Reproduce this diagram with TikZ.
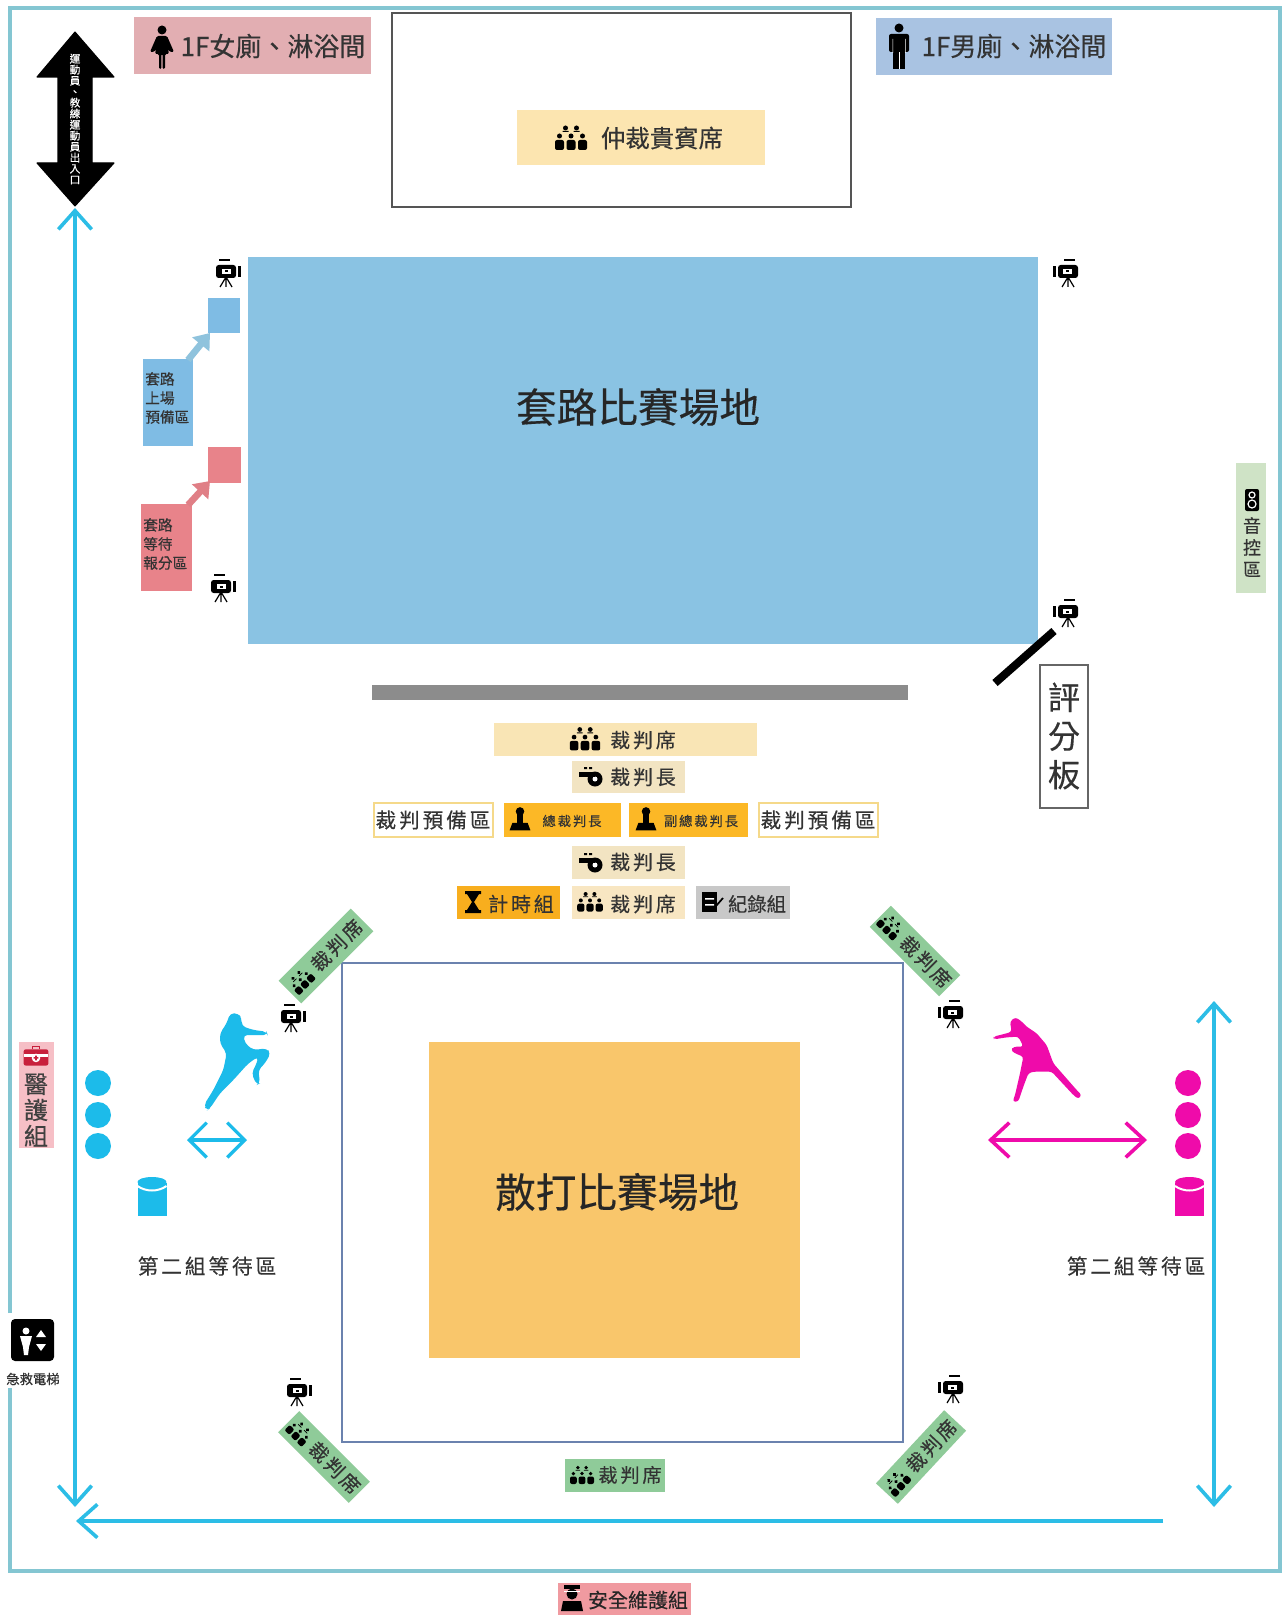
\documentclass[tikz,border=0pt]{standalone}
\usepackage{fontspec}
\setmainfont[FakeBold=0.35]{Noto Sans CJK TC}
\newfontfamily\wide[LetterSpace=14,FakeBold=0.35]{Noto Sans CJK TC}
\usetikzlibrary{arrows.meta}
\definecolor{borderc}{HTML}{84C6D2}
\definecolor{cyanl}{HTML}{2CBDE6}
\definecolor{fieldblue}{HTML}{8AC3E3}
\definecolor{fieldorange}{HTML}{F9C66B}
\definecolor{seatcream}{HTML}{F9E5B5}
\definecolor{chiefcream}{HTML}{F2E4C2}
\definecolor{amberb}{HTML}{FCB826}
\definecolor{greenseat}{HTML}{8FCB99}
\definecolor{mag}{HTML}{EF0BAA}
\definecolor{blueb}{HTML}{1CBBEA}
\definecolor{inkc}{HTML}{333333}
\tikzset{
  lbl/.style={inner sep=0pt,text=inkc,align=center},
  vbarb/.style={line width=2.7pt,-{Straight Barb[length=14pt,width=25pt,line width=2.7pt]}},
  vbarbs/.style={line width=2.7pt,{Straight Barb[length=14pt,width=25pt,line width=2.7pt]}-{Straight Barb[length=14pt,width=25pt,line width=2.7pt]}},
  camera/.pic={
    \fill[black,rounded corners=2pt] (-11,-7) rectangle (9,6);
    \fill[white] (-5,-3) rectangle (4,2);
    \fill[black] (-2,-1.5) rectangle (1,.5);
    \fill[black] (11,-6) rectangle (14,5);
    \draw[black,line width=.9pt] (-8,-12) -- (3,-12);
    \draw[black,line width=.9pt] (-1,5) -- (-7,15) (-1,5) -- (-1,15) (-1,5) -- (5,15);
  },
  crowd/.pic={
    \fill[black] (-5.5,-10) circle (2.5) (5.5,-10) circle (2.5);
    \fill[black] (-11.5,-2) circle (2.5) (0,-2) circle (2.5) (11.5,-2) circle (2.5);
    \fill[black,rounded corners=1.5pt] (-16,2) rectangle (-7,12) (-4.5,2) rectangle (4.5,12) (7,2) rectangle (16,12);
    \fill[black] (-8.5,-7) rectangle (-2.5,-6) (2.5,-7) rectangle (8.5,-6);
  },
  whistle/.pic={
    \fill[black] (4,1) circle (7.5);
    \fill[white] (4,1) circle (2.5);
    \fill[black] (-12,-6) rectangle (4,-1);
    \fill[black] (-7,-11) rectangle (-4,-9) (-2,-11) rectangle (1,-9);
  },
  judge/.pic={
    \fill[black] (0,-9) circle (4.5);
    \fill[black] (-3.5,-7) rectangle (3.5,3);
    \fill[black] (-11,11) -- (-8,3) -- (8,3) -- (11,11) -- cycle;
  },
  hourglass/.pic={
    \fill[black] (-8,-11) rectangle (8,-8) (-8,8) rectangle (8,11);
    \fill[black] (-6,-8) -- (6,-8) -- (1,0) -- (6,8) -- (-6,8) -- (-1,0) -- cycle;
  },
  recordicon/.pic={
    \fill[black] (-9,-10) rectangle (6,10);
    \fill[white] (-6,-4) rectangle (3,-2.5) (-6,2) rectangle (3,3.5);
    \draw[black,line width=1.3pt] (5,4) -- (12,-4);
  },
  woman/.pic={
    \fill[black] (0,-17) circle (4.5);
    \fill[black,rounded corners=1pt] (-5,-11) -- (5,-11) -- (12,5) -- (8,5) -- (6,2) -- (7,7) -- (3,7) -- (3,22) -- (.6,22) -- (.6,7) -- (-.6,7) -- (-.6,22) -- (-3,22) -- (-3,7) -- (-7,7) -- (-6,2) -- (-8,5) -- (-12,5) -- cycle;
  },
  man/.pic={
    \fill[black] (0,-18) circle (4.5);
    \fill[black,rounded corners=1.5pt] (-10,-12) rectangle (10,6);
    \fill[black] (-6,-10) rectangle (6,23);
    \fill[white] (-.5,6) rectangle (.5,23);
    \fill[white] (-6.5,-7) rectangle (-6,7) (6,-7) rectangle (6.5,7);
  },
  speaker/.pic={
    \fill[black,rounded corners=1.5pt] (-7,-11) rectangle (7,11);
    \draw[white,line width=.9pt] (0,-5) circle (3) (0,4) circle (4);
  },
  medcase/.pic={
    \draw[HTML={C8203C},line width=1pt] (-4,-8) -- (-4,-11) -- (4,-11) -- (4,-8);
    \fill[HTML={C8203C},rounded corners=1.5pt] (-13,-8) rectangle (13,9);
    \fill[white] (-13,-3) rectangle (13,0);
    \fill[white] (0,1) circle (4.5);
    \fill[HTML={C8203C}] (-2.5,.2) rectangle (2.5,1.8) (-.8,-1.5) rectangle (.8,3.5);
  },
  guard/.pic={
    \fill[black] (-8,-13) rectangle (8,-9);
    \fill[black] (0,-4) circle (5.5);
    \fill[black] (-11,13) -- (-9,3) -- (9,3) -- (11,13) -- cycle;
    \fill[white] (-8,-7.5) rectangle (8,-7);
  },
  bin/.pic={
    \fill[#1] (-14.5,-13) rectangle (14.5,20);
    \fill[#1] (0,-14) ellipse (14.5 and 5);
    \draw[white,line width=1.5pt] (-14.5,-10) .. controls (-6,-4) and (6,-4) .. (14.5,-10);
  },
}
\makeatletter
\tikzset{HTML/.code={\definecolor{tmpc}{HTML}{#1}\pgfkeysalso{color=tmpc}}}
\makeatother
\begin{document}
\begin{tikzpicture}[x=.75pt,y=-.75pt]
\useasboundingbox (0,0) rectangle (1282,1615);
\fill[white] (0,0) rectangle (1282,1615);
% outer border, open beside the lift
\coordinate (bA) at (10,1313); \coordinate (bB) at (10,8); \coordinate (bC) at (1280,8);
\coordinate (bD) at (1280,1571); \coordinate (bE) at (10,1571); \coordinate (bF) at (10,1388);
\draw[borderc,line width=2.4pt] (bA) -- (bB) -- (bC) -- (bD) -- (bE) -- (bF);
% top row
\fill[HTML=E2AEB2] (134,17) rectangle (371,74);
\pic at (162,47) {woman};
\node[lbl,font=\fontsize{19.5}{22}\selectfont] (ladies) at (273,46) {1F女廁、淋浴間};
\fill[HTML=A9C3E2] (876,18) rectangle (1112,75);
\pic at (899,46) {man};
\node[lbl,font=\fontsize{19.5}{22}\selectfont] (mens) at (1014,46) {1F男廁、淋浴間};
\draw[HTML=555555,line width=1.6pt] (392,13) rectangle (851,207);
\fill[HTML=FCE5B0] (517,110) rectangle (765,165);
\pic at (571,138) {crowd};
\node[lbl,font=\fontsize{18.3}{22}\selectfont] (vip) at (662,138) {仲裁貴賓席};
% entrance arrow
\fill[black,line join=round,draw=black,line width=.8pt] (75,32) -- (114,77) -- (92,77) -- (92,163) -- (114,163) -- (75,206) -- (37,163) -- (58,163) -- (58,77) -- (37,77) -- cycle;
\node[inner sep=0pt,text=white,align=center,font=\fontsize{8}{8.25}\selectfont] (gate) at (75,119) {運\\動\\員\\、\\教\\練\\運\\動\\員\\出\\入\\口};
% cyan route
\coordinate (r1) at (75,208); \coordinate (r2) at (75,1507);
\draw[cyanl,vbarbs] (r1) -- (r2);
\coordinate (r3) at (1163,1521); \coordinate (r4) at (76,1521);
\draw[cyanl,vbarb] (r3) -- (r4);
\coordinate (r5) at (1214,1001); \coordinate (r6) at (1214,1507);
\draw[cyanl,vbarbs] (r5) -- (r6);
% forms field
\fill[fieldblue] (248,257) rectangle (1038,644);
\node[lbl,text=black!85,font=\fontsize{30.5}{34}\selectfont] (forms) at (638,407) {套路比賽場地};
\fill[HTML=7FBCE4] (208,298) rectangle (240,333);
\fill[HTML=7FBCE4] (143,359) rectangle (193,446);
\node[lbl,anchor=west,align=left,font=\fontsize{11}{14.25}\selectfont] (ready) at (145,398) {套路\\上場\\預備區};
\coordinate (ra1) at (188,360); \coordinate (ra2) at (210,333);
\draw[HTML=8FC3DD,line width=5pt,-{Triangle[length=11pt,width=16pt]}] (ra1) -- (ra2);
\fill[HTML=E8838A] (208,447) rectangle (241,483);
\fill[HTML=E8838A] (141,504) rectangle (192,591);
\node[lbl,anchor=west,align=left,font=\fontsize{11}{14.25}\selectfont] (wait) at (143,544) {套路\\等待\\報分區};
\coordinate (rb1) at (188,505); \coordinate (rb2) at (210,481);
\draw[HTML=E07F86,line width=5pt,-{Triangle[length=11pt,width=16pt]}] (rb1) -- (rb2);
% cameras
\pic at (227,272) {camera};
\pic at (222,587) {camera};
\pic[xscale=-1] at (1067,272) {camera};
\pic[xscale=-1] at (1067,612) {camera};
\pic at (292,1017) {camera};
\pic[xscale=-1] at (952,1013) {camera};
\pic at (298,1391) {camera};
\pic[xscale=-1] at (952,1388) {camera};
% bar, scoreboard
\fill[HTML=8C8C8C] (372,685) rectangle (908,700);
\coordinate (sb1) at (995,683); \coordinate (sb2) at (1054,631);
\draw[black,line width=6pt] (sb1) -- (sb2);
\draw[HTML=666666,line width=1.1pt] (1040,665) rectangle (1088,808);
\node[lbl,font=\fontsize{24}{29}\selectfont] (board) at (1064,736) {評\\分\\板};
% judging block
\fill[seatcream] (494,723) rectangle (757,756);
\pic[scale=.95] at (585,739) {crowd};
\node[lbl,font=\wide\fontsize{15}{18}\selectfont] (seatA) at (643,740) {裁判席};
\fill[chiefcream] (572,761) rectangle (685,793);
\pic at (591,778) {whistle};
\node[lbl,font=\wide\fontsize{15}{18}\selectfont] (chiefA) at (643,777) {裁判長};
\draw[HTML=F5D98A,line width=1.3pt,fill=white] (374,803) rectangle (493,837);
\node[lbl,font=\wide\fontsize{15.5}{18}\selectfont] (prepA) at (433,820) {裁判預備區};
\fill[amberb] (504,803) rectangle (621,837);
\pic[scale=.95] at (520,820) {judge};
\node[lbl,font=\wide\fontsize{10}{12}\selectfont] (head) at (572,821) {總裁判長};
\fill[amberb] (629,803) rectangle (748,837);
\pic[scale=.95] at (646,820) {judge};
\node[lbl,font=\wide\fontsize{10}{12}\selectfont] (vice) at (701,821) {副總裁判長};
\draw[HTML=F5D98A,line width=1.3pt,fill=white] (759,803) rectangle (878,837);
\node[lbl,font=\wide\fontsize{15.5}{18}\selectfont] (prepB) at (818,820) {裁判預備區};
\fill[chiefcream] (572,846) rectangle (685,879);
\pic at (591,864) {whistle};
\node[lbl,font=\wide\fontsize{15}{18}\selectfont] (chiefB) at (643,862) {裁判長};
\fill[HTML=F8AE1E] (457,886) rectangle (560,919);
\pic at (473,902) {hourglass};
\node[lbl,font=\wide\fontsize{15}{18}\selectfont] (timer) at (521,904) {計時組};
\fill[HTML=F8E6C2] (572,886) rectangle (685,919);
\pic[scale=.8] at (590,902) {crowd};
\node[lbl,font=\wide\fontsize{15}{18}\selectfont] (seatB) at (643,904) {裁判席};
\fill[HTML=C8C8C8] (696,886) rectangle (790,919);
\pic at (711,902) {recordicon};
\node[lbl,font=\fontsize{14.5}{18}\selectfont] (rec) at (757,904) {紀錄組};
% sanda field
\draw[HTML=6B82AE,line width=1.6pt] (342,963) rectangle (903,1442);
\fill[fieldorange] (429,1042) rectangle (800,1358);
\node[lbl,text=black!85,font=\fontsize{30.5}{34}\selectfont] (sanda) at (617,1192) {散打比賽場地};
% angled judge seats
\begin{scope}[shift={(326,956)},rotate=45,transform shape]
\fill[greenseat] (-51,-16) rectangle (51,16);
\pic[scale=.75] at (-35,0) {crowd};
\node[lbl,font=\wide\fontsize{14.5}{18}\selectfont] (dA) at (15,0) {裁判席};
\end{scope}
\begin{scope}[shift={(915,951)},rotate=-45,transform shape]
\fill[greenseat] (-49,-15) rectangle (49,15);
\pic[scale=.75] at (-35,0) {crowd};
\node[lbl,font=\wide\fontsize{14.5}{18}\selectfont] (dB) at (15,0) {裁判席};
\end{scope}
\begin{scope}[shift={(324,1457)},rotate=-45,transform shape]
\fill[greenseat] (-50,-15) rectangle (50,15);
\pic[scale=.75] at (-35,0) {crowd};
\node[lbl,font=\wide\fontsize{14.5}{18}\selectfont] (dC) at (15,0) {裁判席};
\end{scope}
\begin{scope}[shift={(921,1457)},rotate=47,transform shape]
\fill[greenseat] (-50,-15) rectangle (50,15);
\pic[scale=.75] at (-35,0) {crowd};
\node[lbl,font=\wide\fontsize{14.5}{18}\selectfont] (dD) at (15,0) {裁判席};
\end{scope}
\fill[greenseat] (565,1459) rectangle (665,1492);
\pic[scale=.75] at (582,1475) {crowd};
\node[lbl,font=\wide\fontsize{14.5}{18}\selectfont] (dE) at (630,1475) {裁判席};
% right side sound
\fill[HTML=CFE3C6] (1236,463) rectangle (1266,593);
\pic at (1252,500) {speaker};
\node[lbl,font=\fontsize{13.5}{16.4}\selectfont] (sound) at (1252,547) {音\\控\\區};
% medic
\fill[HTML=F6BFC6] (19,1042) rectangle (54,1148);
\pic[scale=.95] at (36,1057) {medcase};
\node[lbl,text=black!75,font=\fontsize{18}{19.5}\selectfont] (medic) at (36,1110) {醫\\護\\組};
% blue corner
\fill[blueb] (98,1083) circle (13) (98,1115) circle (13) (98,1146) circle (13);
\pic at (152,1196) {bin=blueb};
\coordinate (ba1) at (187,1140); \coordinate (ba2) at (247,1140);
\draw[blueb,line width=2.5pt,{Straight Barb[length=13pt,width=26pt,line width=2.5pt]}-{Straight Barb[length=13pt,width=26pt,line width=2.5pt]}] (ba1) -- (ba2);
\node[lbl,font=\wide\fontsize{15.5}{18}\selectfont] (groupA) at (207,1266) {第二組等待區};
\begin{scope}[shift={(0,900)},x=.25pt,y=-.25pt]
\fill[blueb,rounded corners=3pt] (620,632) -- (612,615) -- (640,570) -- (670,510) -- (680,460) -- (660,430) -- (660,400) -- (680,370) -- (690,340) -- (715,340) -- (725,355) -- (725,378) -- (760,390) -- (800,395) -- (803,405) -- (760,405) -- (730,405) -- (735,430) -- (760,450) -- (800,445) -- (812,460) -- (795,490) -- (775,510) -- (780,550) -- (770,555) -- (755,520) -- (770,490) -- (775,470) -- (745,490) -- (700,540) -- (660,580) -- (630,625) -- cycle;
\end{scope}
% magenta corner
\fill[mag] (1188,1083) circle (13) (1188,1115) circle (13) (1188,1146) circle (13);
\pic at (1189.5,1196) {bin=mag};
\coordinate (ma1) at (988,1140); \coordinate (ma2) at (1147,1140);
\draw[mag,line width=2.7pt,{Straight Barb[length=14pt,width=26pt,line width=2.7pt]}-{Straight Barb[length=14pt,width=26pt,line width=2.7pt]}] (ma1) -- (ma2);
\node[lbl,font=\wide\fontsize{15.5}{18}\selectfont] (groupB) at (1136,1266) {第二組等待區};
\begin{scope}[shift={(860,900)},x=.25pt,y=-.25pt]
\fill[mag,rounded corners=2pt] (400,410) -- (440,400) -- (455,395) -- (450,365) -- (465,352) -- (480,360) -- (500,380) -- (530,400) -- (560,435) -- (580,490) -- (650,570) -- (665,585) -- (655,597) -- (640,585) -- (575,515) -- (545,515) -- (520,515) -- (505,520) -- (490,560) -- (475,605) -- (458,605) -- (465,585) -- (480,520) -- (490,470) -- (465,460) -- (452,450) -- (462,440) -- (490,440) -- (475,410) -- (440,412) -- (402,418) -- cycle;
\end{scope}
% lift
\fill[black,rounded corners=3pt] (11,1319) rectangle (54,1361);
\fill[white] (26,1331) circle (3.5);
\fill[white] (20,1336) -- (32,1336) -- (29,1347) -- (28,1355) -- (24,1355) -- (23,1347) -- cycle;
\fill[white] (36,1337) -- (41,1330) -- (46,1337) -- cycle (36,1344) -- (46,1344) -- (41,1351) -- cycle;
\node[lbl,font=\fontsize{10}{12}\selectfont] (lift) at (33,1379) {急救電梯};
% security
\fill[HTML=F09AA0] (558,1583) rectangle (691,1615);
\pic at (572,1598) {guard};
\node[lbl,text=black!85,font=\fontsize{15}{18}\selectfont] (guardtxt) at (638,1600) {安全維護組};
\end{tikzpicture}
\end{document}
